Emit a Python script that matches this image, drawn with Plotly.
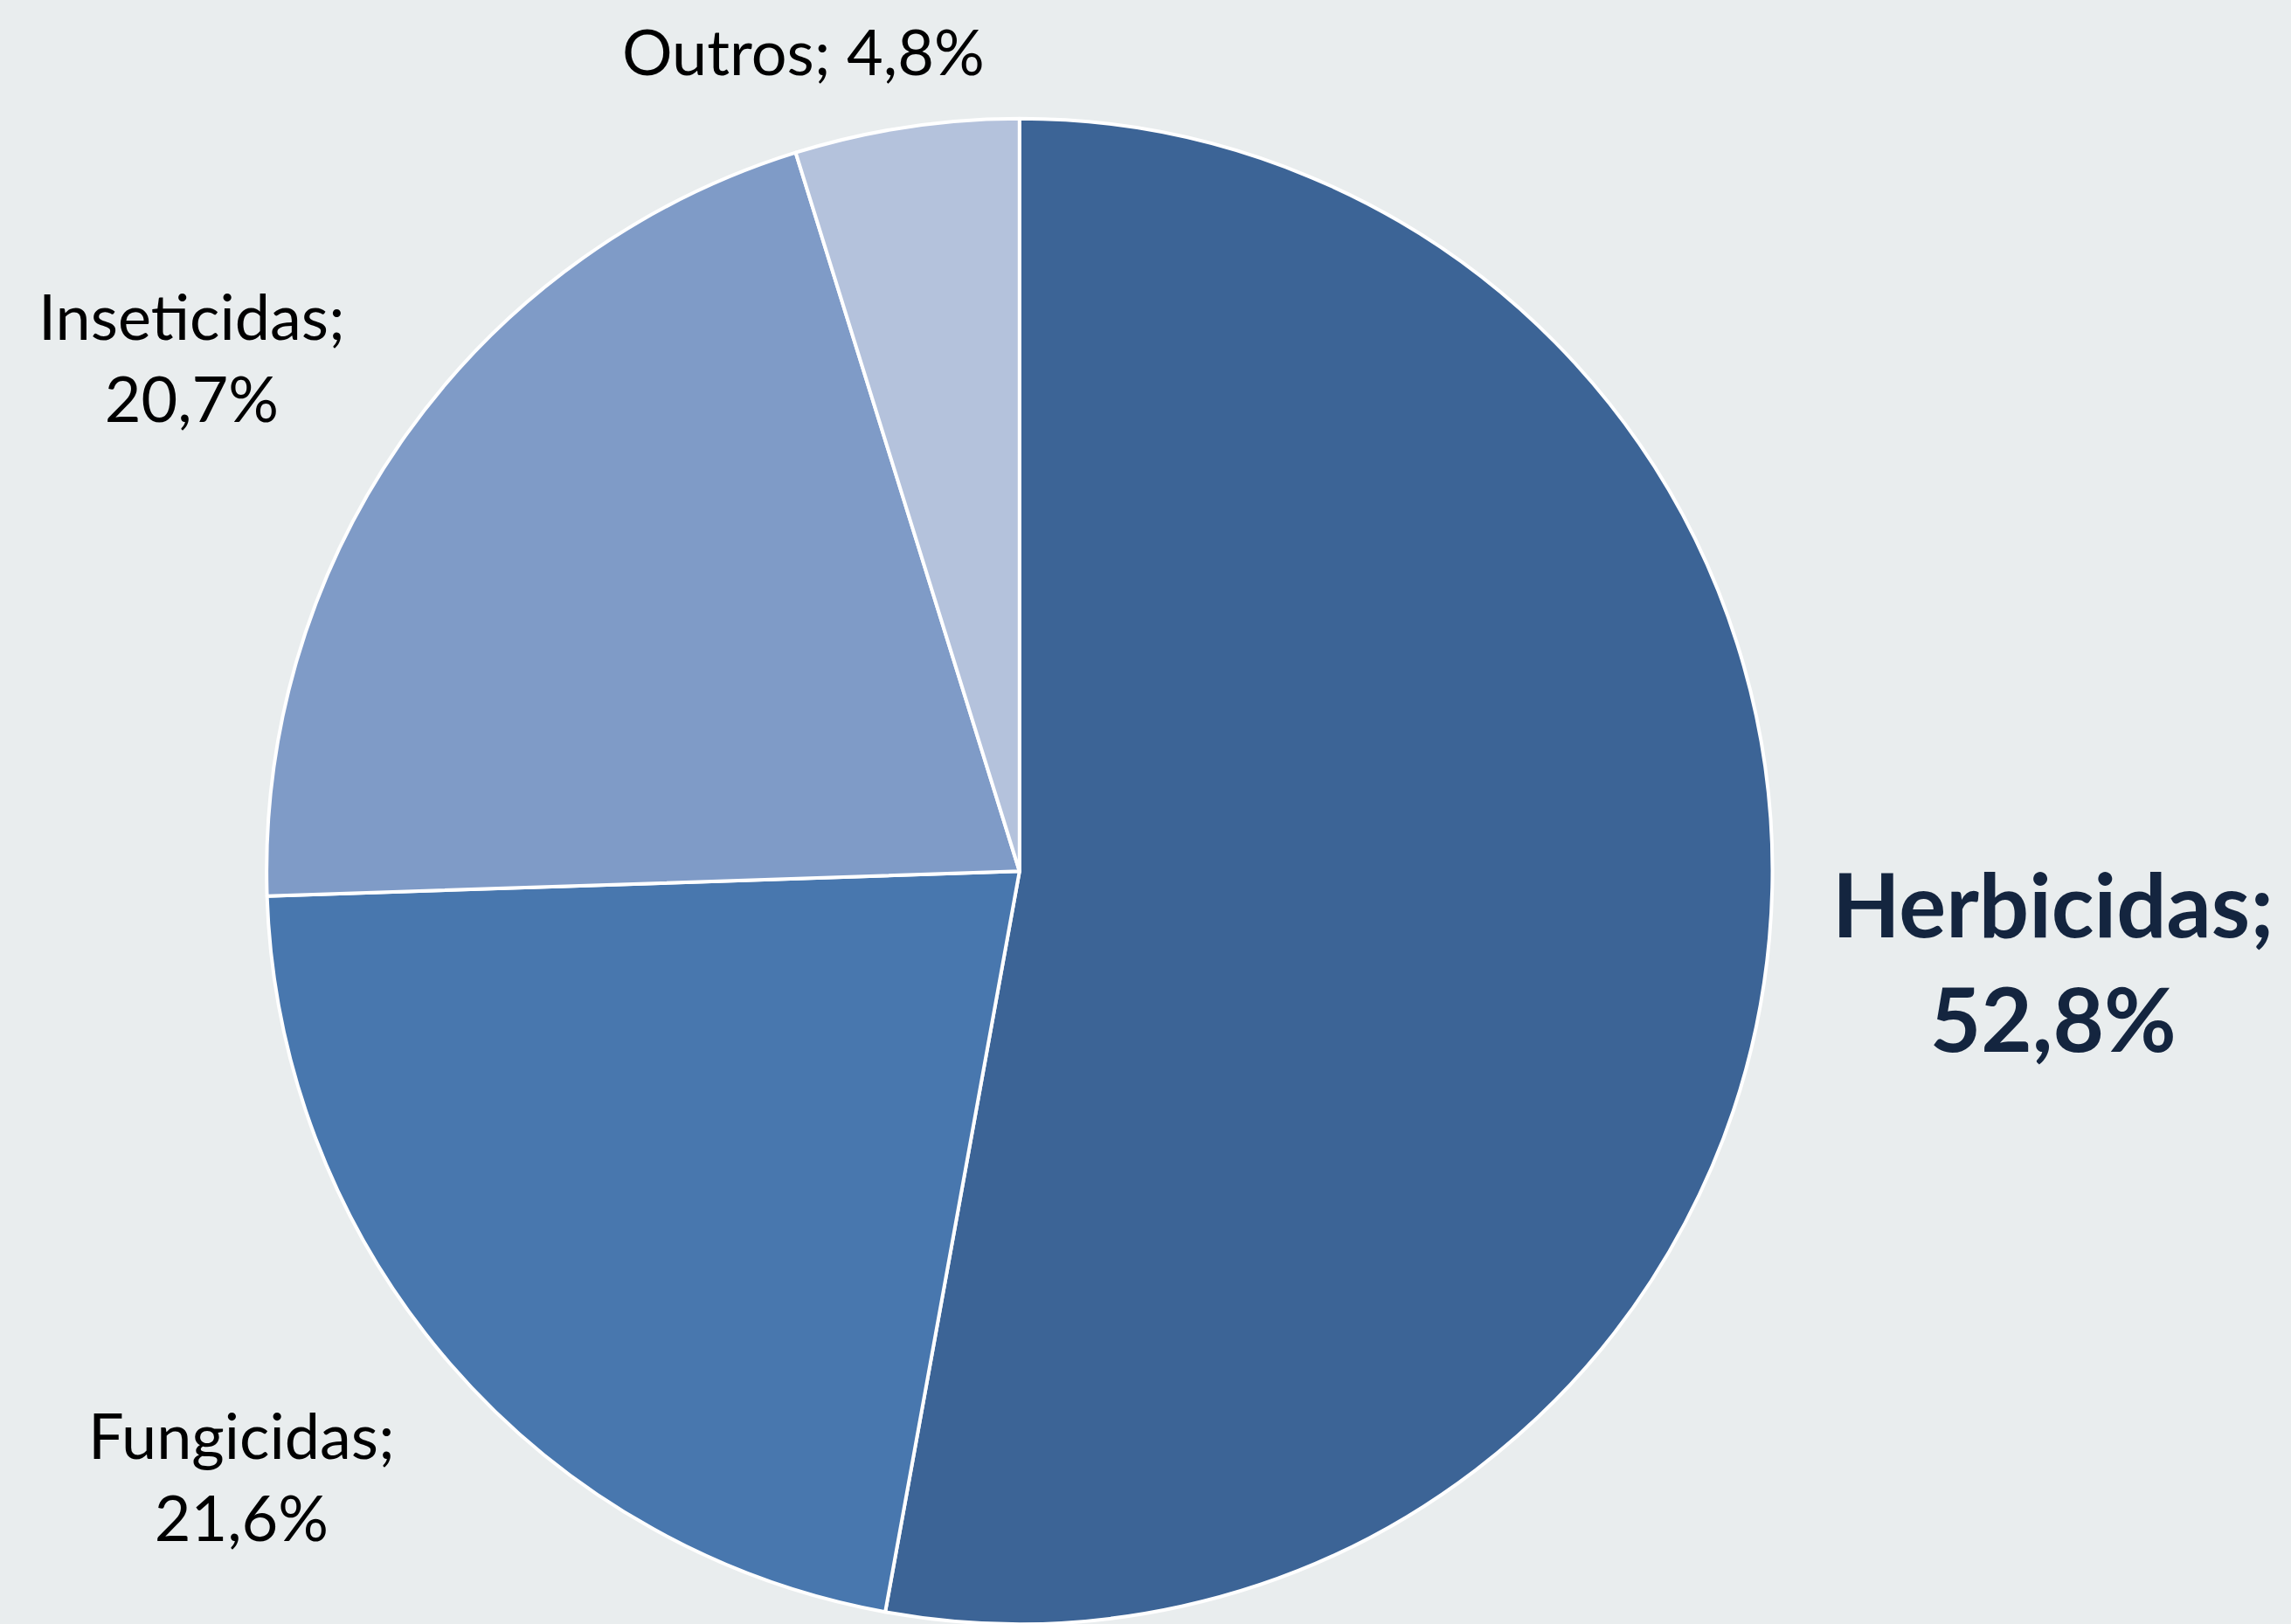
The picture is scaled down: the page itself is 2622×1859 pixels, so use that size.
import plotly.graph_objects as go

categories = ["Herbicidas", "Fungicidas", "Inseticidas", "Outros"]
values = [52.8, 21.6, 20.7, 4.8]
value_labels = ["52,8%", "21,6%", "20,7%", "4,8%"]
colors = ["#3C6496", "#4877AE", "#7F9BC7", "#B4C2DC"]

W, H = 2622, 1859
BG = "#E9EDEE"
fig = go.Figure()
fig.add_trace(go.Pie(
    labels=categories,
    values=values,
    sort=False,
    direction="clockwise",
    rotation=0,
    marker=dict(colors=colors, line=dict(color="#FFFFFF", width=4)),
    textinfo="none",
    hoverinfo="label+percent",
    domain=dict(x=[0.113, 0.777], y=[0.0, 0.927]),
    showlegend=False,
))

# label placement (paper coords) : Herbicidas, Fungicidas, Inseticidas, Outros
label_pos = [(2349, 1099), (276, 1689), (219, 408), (919, 58)]
for i, (cat, lab) in enumerate(zip(categories, value_labels)):
    px, py = label_pos[i]
    if cat == "Herbicidas":
        text = f"<b>{cat};<br>{lab}</b>"
        font = dict(family="Lato", size=101, color="#14253F")
    elif cat == "Outros":
        text = f"{cat}; {lab}"
        font = dict(family="Lato", size=72, color="#000000")
    else:
        text = f"{cat};<br>{lab}"
        font = dict(family="Lato", size=72, color="#000000")
    fig.add_annotation(
        x=px / W, y=1 - py / H, xref="paper", yref="paper",
        text=text, showarrow=False, font=font,
        xanchor="center", yanchor="middle", align="center",
    )

fig.update_layout(
    width=W, height=H,
    margin=dict(l=0, r=0, t=0, b=0),
    paper_bgcolor=BG,
    plot_bgcolor=BG,
)
fig.write_html(
    "out.html",
    config={"displayModeBar": False},
    post_script=(
        "document.body.style.margin='0';"
        "document.body.style.padding='0';"
        "document.body.style.overflow='hidden';"
        f"document.body.style.background='{BG}';"
        f"document.documentElement.style.background='{BG}';"
    ),
)
